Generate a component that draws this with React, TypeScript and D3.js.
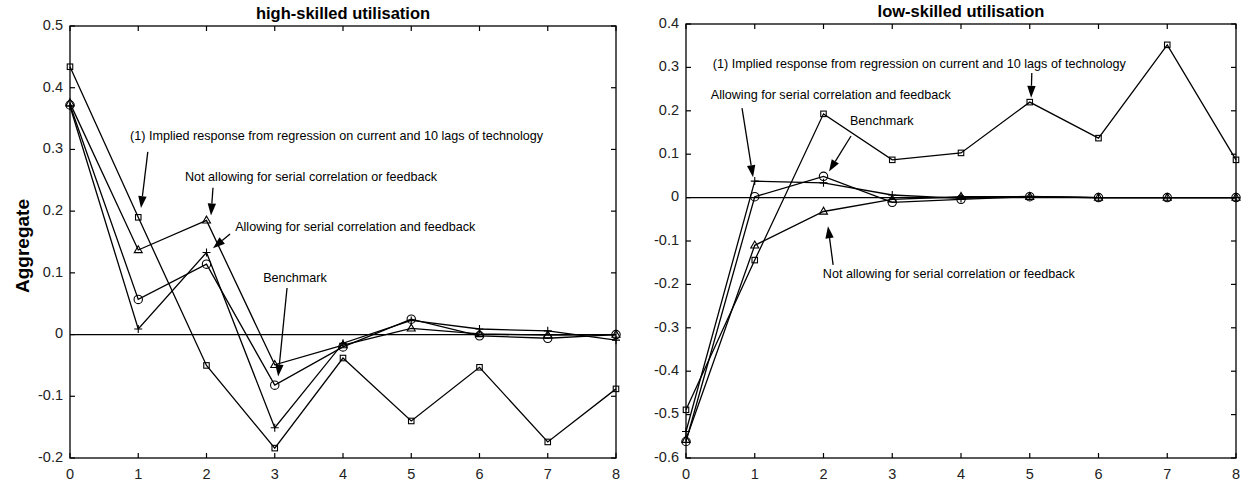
import React from 'react';
import * as d3 from 'd3';

// Lag horizon (quarters after the technology shock)
const lags = [0, 1, 2, 3, 4, 5, 6, 7, 8];

// High-skilled utilisation responses
const highImplied = [0.434, 0.19, -0.05, -0.184, -0.038, -0.14, -0.053, -0.174, -0.088];
const highNoFeedback = [0.375, 0.137, 0.185, -0.049, -0.017, 0.01, 0.001, -0.001, 0.0];
const highBenchmark = [0.372, 0.057, 0.114, -0.082, -0.02, 0.025, -0.002, -0.006, 0.0];
const highFeedback = [0.37, 0.009, 0.133, -0.151, -0.014, 0.023, 0.009, 0.006, -0.009];

// Low-skilled utilisation responses
const lowImplied = [-0.489, -0.144, 0.193, 0.087, 0.103, 0.22, 0.137, 0.352, 0.087];
const lowNoFeedback = [-0.558, -0.11, -0.032, -0.004, 0.002, 0.002, 0.0, 0.0, 0.0];
const lowBenchmark = [-0.562, 0.002, 0.049, -0.011, -0.004, 0.002, 0.0, 0.0, 0.0];
const lowFeedback = [-0.539, 0.038, 0.034, 0.006, -0.002, 0.003, 0.0, 0.0, 0.0];

const highYTicks = [-0.2, -0.1, 0, 0.1, 0.2, 0.3, 0.4, 0.5];
const lowYTicks = [-0.6, -0.5, -0.4, -0.3, -0.2, -0.1, 0, 0.1, 0.2, 0.3, 0.4];

const labelImplied = '(1) Implied response from regression on current and 10 lags of technology';
const labelNoFeedback = 'Not allowing for serial correlation or feedback';
const labelFeedback = 'Allowing for serial correlation and feedback';
const labelBenchmark = 'Benchmark';

type Marker = 'square' | 'triangle' | 'circle' | 'plus';

interface Series {
  values: number[];
  marker: Marker;
}

interface Note {
  text: string;
  tx: number; // text start (data x)
  ty: number; // text middle (data y)
  from: [number, number];
  to: [number, number];
}

const highSeries: Series[] = [
  { values: highImplied, marker: 'square' },
  { values: highNoFeedback, marker: 'triangle' },
  { values: highBenchmark, marker: 'circle' },
  { values: highFeedback, marker: 'plus' },
];

const lowSeries: Series[] = [
  { values: lowImplied, marker: 'square' },
  { values: lowNoFeedback, marker: 'triangle' },
  { values: lowBenchmark, marker: 'circle' },
  { values: lowFeedback, marker: 'plus' },
];

const highNotes: Note[] = [
  { text: labelImplied, tx: 0.88, ty: 0.32, from: [1.14, 0.296], to: [1.04, 0.205] },
  { text: labelNoFeedback, tx: 1.685, ty: 0.254, from: [2.095, 0.238], to: [2.066, 0.193] },
  { text: labelFeedback, tx: 2.42, ty: 0.173, from: [2.345, 0.163], to: [2.095, 0.14] },
  { text: labelBenchmark, tx: 2.83, ty: 0.09, from: [3.18, 0.0755], to: [3.05, -0.068] },
];

const lowNotes: Note[] = [
  { text: labelImplied, tx: 0.39, ty: 0.306, from: [5.03, 0.287], to: [5.02, 0.23] },
  { text: labelFeedback, tx: 0.36, ty: 0.236, from: [0.815, 0.206], to: [0.975, 0.047] },
  { text: labelBenchmark, tx: 2.385, ty: 0.176, from: [2.4, 0.142], to: [2.08, 0.06] },
  { text: labelNoFeedback, tx: 1.99, ty: -0.178, from: [2.14, -0.155], to: [2.065, -0.066] },
];

const FONT = '"Liberation Sans", Arial, Helvetica, sans-serif';

function MarkerShape({ kind, x, y }: { kind: Marker; x: number; y: number }) {
  const common = { fill: 'none', stroke: '#000', strokeWidth: 1.1 };
  if (kind === 'square') {
    const s = 5.5;
    return <rect x={x - s / 2} y={y - s / 2} width={s} height={s} {...common} />;
  }
  if (kind === 'circle') {
    return <circle cx={x} cy={y} r={4.2} {...common} />;
  }
  if (kind === 'triangle') {
    const s = 8;
    const h = s * 0.866;
    const pts = `${x},${y - h * 0.62} ${x - s / 2},${y + h * 0.38} ${x + s / 2},${y + h * 0.38}`;
    return <polygon points={pts} {...common} />;
  }
  const p = 4;
  return (
    <path d={`M${x - p},${y}H${x + p}M${x},${y - p}V${y + p}`} {...common} />
  );
}

function Arrow({ x1, y1, x2, y2 }: { x1: number; y1: number; x2: number; y2: number }) {
  const ang = Math.atan2(y2 - y1, x2 - x1);
  const len = 12;
  const half = 4.2;
  const bx = x2 - len * Math.cos(ang);
  const by = y2 - len * Math.sin(ang);
  const nx = -Math.sin(ang) * half;
  const ny = Math.cos(ang) * half;
  return (
    <g>
      <line x1={x1} y1={y1} x2={bx} y2={by} stroke="#000" strokeWidth={1.3} />
      <polygon points={`${x2},${y2} ${bx + nx},${by + ny} ${bx - nx},${by - ny}`} fill="#000" />
    </g>
  );
}

interface PanelProps {
  left: number;
  right: number;
  top: number;
  bottom: number;
  yDomain: [number, number];
  yTicks: number[];
  title: string;
  titleY: number;
  series: Series[];
  notes: Note[];
}

function Panel({ left, right, top, bottom, yDomain, yTicks, title, titleY, series, notes }: PanelProps) {
  const x = d3.scaleLinear().domain([0, 8]).range([left, right]);
  const y = d3.scaleLinear().domain(yDomain).range([bottom, top]);
  const line = d3
    .line<number>()
    .x((_, i) => x(lags[i]))
    .y((d) => y(d));
  const tickLen = 5;
  const fmt = (v: number) => String(+v.toFixed(1));

  return (
    <g>
      {/* zero reference line */}
      <line x1={left} x2={right} y1={y(0)} y2={y(0)} stroke="#000" strokeWidth={1.2} />

      {series.map((s, i) => (
        <path key={`l${i}`} d={line(s.values) || ''} fill="none" stroke="#000" strokeWidth={1.3} />
      ))}
      {series.map((s, i) =>
        s.values.map((v, j) => (
          <MarkerShape key={`m${i}-${j}`} kind={s.marker} x={x(lags[j])} y={y(v)} />
        ))
      )}

      {/* frame */}
      <rect x={left} y={top} width={right - left} height={bottom - top} fill="none" stroke="#000" strokeWidth={1.3} />

      {/* x ticks, bottom and mirrored on top */}
      {lags.map((t) => (
        <g key={`xt${t}`}>
          <line x1={x(t)} x2={x(t)} y1={bottom} y2={bottom - tickLen} stroke="#000" strokeWidth={1.2} />
          <line x1={x(t)} x2={x(t)} y1={top} y2={top + tickLen} stroke="#000" strokeWidth={1.2} />
          <text
            x={x(t)}
            y={bottom + 17}
            textAnchor="middle"
            dominantBaseline="middle"
            fontSize={14.5}
            fontFamily={FONT}
            fill="#222"
          >
            {t}
          </text>
        </g>
      ))}

      {/* y ticks, left and mirrored on right */}
      {yTicks.map((t) => (
        <g key={`yt${t}`}>
          <line x1={left} x2={left + tickLen} y1={y(t)} y2={y(t)} stroke="#000" strokeWidth={1.2} />
          <line x1={right} x2={right - tickLen} y1={y(t)} y2={y(t)} stroke="#000" strokeWidth={1.2} />
          <text
            x={left - 7}
            y={y(t)}
            textAnchor="end"
            dominantBaseline="middle"
            fontSize={14.5}
            fontFamily={FONT}
            fill="#222"
          >
            {fmt(t)}
          </text>
        </g>
      ))}

      <text
        x={(left + right) / 2}
        y={titleY}
        textAnchor="middle"
        fontSize={16.5}
        fontWeight="bold"
        fontFamily={FONT}
        fill="#000"
      >
        {title}
      </text>

      {notes.map((n, i) => (
        <g key={`n${i}`}>
          <text
            x={x(n.tx)}
            y={y(n.ty)}
            dominantBaseline="middle"
            fontSize={12.6}
            fontFamily={FONT}
            fill="#000"
          >
            {n.text}
          </text>
          <Arrow x1={x(n.from[0])} y1={y(n.from[1])} x2={x(n.to[0])} y2={y(n.to[1])} />
        </g>
      ))}
    </g>
  );
}

export default function App() {
  return (
    <svg
      width={1243}
      height={484}
      style={{ position: 'absolute', left: 0, top: 0, background: '#fff' }}
    >
      <rect x={0} y={0} width={1243} height={484} fill="#fff" />
      <text
        transform="translate(24,246) rotate(-90)"
        textAnchor="middle"
        dominantBaseline="middle"
        fontSize={19}
        fontWeight="bold"
        fontFamily={FONT}
        fill="#000"
      >
        Aggregate
      </text>
      <Panel
        left={70}
        right={616}
        top={26}
        bottom={458}
        yDomain={[-0.2, 0.5]}
        yTicks={highYTicks}
        title="high-skilled utilisation"
        titleY={19}
        series={highSeries}
        notes={highNotes}
      />
      <Panel
        left={686}
        right={1236}
        top={24}
        bottom={458}
        yDomain={[-0.6, 0.4]}
        yTicks={lowYTicks}
        title="low-skilled utilisation"
        titleY={17}
        series={lowSeries}
        notes={lowNotes}
      />
    </svg>
  );
}
